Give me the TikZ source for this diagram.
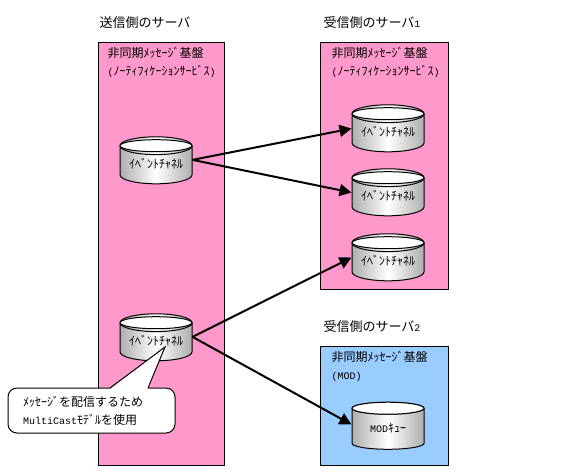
\documentclass[tikz,border=0pt]{standalone}
\usepackage{fontspec}
\setmainfont{Noto Sans CJK JP}
\newfontfamily\latinfont{Liberation Mono}
\usepackage{xcolor}
\usetikzlibrary{arrows.meta,calc,positioning,shapes.geometric}
\definecolor{pinkbg}{HTML}{FF99CC}
\definecolor{bluebg}{HTML}{99CCFF}
\newcommand{\ml}[1]{{\latinfont\fontsize{10}{18}\selectfont #1}}
\newcommand{\up}[1]{\raisebox{3pt}{#1}}

\begin{document}
\begin{tikzpicture}[x=1pt,y=-1pt,font=\fontsize{12}{18}\selectfont,line width=1pt,
  srv/.style={draw,anchor=north west,minimum width=#1},
  head/.style={font=\fontsize{13}{18}\selectfont,inner sep=0pt,anchor=south west},
  lab/.style={align=left,inner sep=0pt},
  chan/.style={draw,cylinder,shape border rotate=90,aspect=0.33,minimum width=72pt,minimum height=47pt,inner sep=0pt,
    left color=black!32,right color=black!32,middle color=white},
  arr/.style={-{Triangle[length=12pt,width=12pt]},line width=2pt}]
\useasboundingbox (0,0) rectangle (577,474);
% server boxes
\node[srv=126pt,minimum height=423pt,fill=pinkbg] (srvA) at (98,42) {};
\node[srv=128pt,minimum height=247pt,fill=pinkbg] (srvB) at (320,42) {};
\node[srv=128pt,minimum height=119pt,fill=bluebg] (srvC) at (320,346) {};
\node[head,above right=13pt and 1pt of srvA.north west] (headA) {送信側のサーバ};
\node[head,above right=13pt and 3pt of srvB.north west] (headB) {受信側のサーバ\ml{1}};
\node[head,above right=13pt and 3pt of srvC.north west] (headC) {受信側のサーバ\ml{2}};
\node[lab,below right=5pt and 9pt of srvA.north west] (baseA) {非同期ﾒｯｾｰｼﾞ基盤\\\ml{(}ﾉｰﾃｨﾌｨｹｰｼｮﾝｻｰﾋﾞｽ\ml{)}};
\node[lab,below right=5pt and 11pt of srvB.north west] (baseB) {非同期ﾒｯｾｰｼﾞ基盤\\\ml{(}ﾉｰﾃｨﾌｨｹｰｼｮﾝｻｰﾋﾞｽ\ml{)}};
\node[lab,below right=5pt and 11pt of srvC.north west] (baseC) {非同期ﾒｯｾｰｼﾞ基盤\\\ml{(MOD)}};
% channels
\node[chan] (chanA) at (156,165) {\up{ｲﾍﾞﾝﾄﾁｬﾈﾙ}};
\node[chan] (chanB) at (156,342) {\up{ｲﾍﾞﾝﾄﾁｬﾈﾙ}};
\node[chan] (chanC) at (388,133) {\up{ｲﾍﾞﾝﾄﾁｬﾈﾙ}};
\node[chan] (chanD) at (388,197) {\up{ｲﾍﾞﾝﾄﾁｬﾈﾙ}};
\node[chan] (chanE) at (388,262) {\up{ｲﾍﾞﾝﾄﾁｬﾈﾙ}};
\node[chan] (queue) at (388,429) {\up{\ml{MOD}ｷｭｰ}};
\foreach \n in {chanA,chanB,chanC,chanD,chanE,queue}
  \draw[fill=white] ($(\n.before top)!0.5!(\n.after top)$) ellipse (36pt and 6pt);
\draw[arr] (chanA.8)--(chanC.173); \draw[arr] (chanA.8)--(chanD.173);
\draw[arr] (chanB.8)--(chanE.173); \draw[arr] (chanB.8)--(queue.173);
% callout
\node[draw,fill=white,rounded corners=9pt,minimum width=167pt,minimum height=45pt,lab,inner xsep=15pt,text width=137pt] (note) at (91.5,410.5) {ﾒｯｾｰｼﾞを配信するため\\\ml{MultiCast}ﾓﾃﾞﾙを使用};
\coordinate (tip) at (165,347);
\fill[white] (110,389)--(tip)--(148,389)--cycle;
\draw (110,388)--(tip)--(148,388);
\end{tikzpicture}
\end{document}
